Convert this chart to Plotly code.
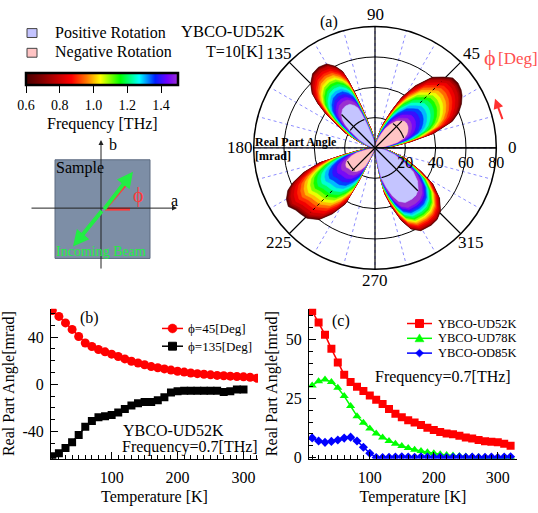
import numpy as np
import plotly.graph_objects as go

W, H = 538, 513
FONT = "Liberation Serif, Times New Roman, serif"

# ---------------- data: panel (b) ----------------
temp_b45 = list(range(10, 330, 10))
phi45 = [62.5, 57.5, 52, 46.5, 40.5, 35, 32, 29.5, 27.5, 25.5, 23.5, 21.5, 19.5, 18, 16.5, 15,
         14, 13, 12, 11, 10.3, 9.6, 9, 8.5, 8, 7.5, 7.2, 6.9, 6.6, 6.3, 6, 5.2]
temp_b135 = list(range(10, 310, 10))
phi135 = [-61, -58.5, -54, -49, -43, -36, -31, -28, -27, -26, -24, -21, -18, -16, -15, -15,
          -13.5, -11, -7, -6, -5.5, -5.5, -5.5, -5.5, -5.5, -5.5, -6.5, -6, -4.5, -4.5]

# ---------------- data: panel (c) ----------------
temp_c = list(range(10, 330, 10))
ud52 = [62, 57.2, 52, 46, 40.2, 35, 32, 30, 28.2, 26.3, 24.4, 22.6, 20.5, 18.5, 17, 15.8,
        14.8, 13.8, 12.6, 11.6, 10.8, 10.2, 9.8, 9.2, 8.5, 8, 7.4, 6.9, 6.7, 6.4, 5.8, 5]
ud78 = [30.5, 32.3, 33, 32, 29.5, 26, 21.8, 17.5, 14.7, 12.3, 10.2, 8.5, 7, 5.8, 4.9, 4,
        3.3, 2.7, 2.2, 1.8, 1.4, 1.1, 0.8, 0.6, 0.4, 0.3, 0.15, 0, -0.1, -0.1, 0, 0.1]
od85 = [8.3, 7, 6.4, 6.8, 7.4, 8.2, 8.6, 7, 4.3, 1.8, 0, 0, 0.1, 0.2, 0.3, 0.2,
        0.1, 0.3, 0.2, 0.1, 0.2, 0, 0.1, 0.2, 0.1, 0.2, 0, 0.1, 0.2, 0, 0.2, 0.3]

# ---------------- data: polar panel (a) ----------------
freqs = [0.6, 0.65, 0.7, 0.75, 0.8, 0.85, 0.9, 0.95, 1.0, 1.05, 1.1, 1.15, 1.2, 1.25,
         1.3, 1.35, 1.4, 1.45, 1.5]
# relative position of each frequency contour between the outer edge (0) and inner edge (1)
band_pos = [0, 0.015, 0.03, 0.05, 0.08, 0.14, 0.2, 0.26, 0.32, 0.38, 0.44, 0.5, 0.56, 0.63,
            0.7, 0.77, 0.84, 0.92, 1.0]
# outer (0.6 THz) contour of the four lobes
theta_outer = [0, 3, 6, 10, 14, 19, 23, 27, 31, 34, 38, 42, 46, 51, 57, 62, 66, 71, 76, 82, 90,
               95, 98, 102, 105, 108, 110, 111.5, 113, 116, 120, 125, 130, 135, 139, 142, 145,
               148, 153, 158, 165, 172, 180,
               185, 190, 193, 195, 199, 203, 206, 210, 214, 218, 222, 226, 232, 237, 242, 244,
               246, 250, 260, 270,
               275, 278, 280, 282, 286, 290, 294, 299, 306, 311, 316, 322, 328, 333, 341, 348,
               355, 360]
r_outer = [2, 6, 13, 24, 40, 54, 60, 64, 67, 68.5, 69.5, 69, 65, 60, 49, 38, 27, 17, 8, 3, 1,
           4, 8, 13, 17, 28, 38, 48, 55, 60, 64, 65, 64, 60, 55, 48, 40, 31, 22, 12, 5, 2, 1,
           5, 13, 24, 38, 50, 59, 64, 67.5, 69, 66.5, 65.5, 64.5, 60, 52, 42, 25, 8, 2, 1, 1,
           3, 9, 20, 31, 41, 51, 58.5, 62.4, 63, 62.5, 60, 54, 45, 34, 21, 11, 4, 2]
# per quadrant: size of the 1.5 THz contour and of the sign region, relative to outer contour
quad_end = [0.42, 0.57, 0.38, 0.72]
quad_inner = [0.38, 0.52, 0.33, 0.66]
quad_kind = ["neg", "pos", "neg", "pos"]
angle_labels = [0, 45, 90, 135, 180, 225, 270, 315]

POS_COLOR = "#c4c4ff"
NEG_COLOR = "#ffc4c4"

cscale = [[0.0, "#4a0000"], [0.1, "#800000"], [0.22, "#cc0000"], [0.3, "#ff0000"],
          [0.4, "#ff7a00"], [0.49, "#ffff00"], [0.62, "#00ff00"], [0.745, "#00ffff"],
          [0.85, "#0020ff"], [0.93, "#7000ff"], [1.0, "#9a30d0"]]


def hex2rgb(h):
    h = h.lstrip("#")
    return [int(h[i:i + 2], 16) for i in (0, 2, 4)]


def color_at(f):
    t = (f - 0.6) / 0.9
    for (t0, c0), (t1, c1) in zip(cscale[:-1], cscale[1:]):
        if t0 <= t <= t1:
            a = (t - t0) / (t1 - t0) if t1 > t0 else 0
            r0, r1 = hex2rgb(c0), hex2rgb(c1)
            c = [round(r0[i] + a * (r1[i] - r0[i])) for i in range(3)]
            return "rgb(%d,%d,%d)" % tuple(c)
    return cscale[-1][1]


def px(x):
    return x / W


def py(y):
    return 1 - y / H


th = np.array(theta_outer, dtype=float)
ro = np.array(r_outer, dtype=float)
qidx = np.minimum((th // 90).astype(int), 3)
q_end = np.array(quad_end)[qidx]

fig = go.Figure()

# black 45-degree spokes (under the lobes)
for a in (45, 135):
    fig.add_trace(go.Scatterpolar(r=[80, 0, 80], theta=[a, a, a + 180], mode="lines",
                                  line=dict(color="black", width=1.2), showlegend=False,
                                  hoverinfo="skip"))

# frequency contours
for f, u in zip(freqs, band_pos):
    col = color_at(f)
    s = 1 - u * (1 - q_end)
    fig.add_trace(go.Scatterpolar(r=ro * s, theta=th, mode="lines", fill="toself",
                                  fillcolor=col, line=dict(color=col, width=0.6),
                                  showlegend=False, hoverinfo="skip"))

# inner positive / negative rotation regions
for q in range(4):
    lo, hi = 90 * q, 90 * (q + 1)
    ratio = quad_inner[q]
    m = (th >= lo) & (th <= hi)
    rr = np.r_[0, ro[m] * ratio, 0]
    tt = np.r_[lo, th[m], hi]
    col = POS_COLOR if quad_kind[q] == "pos" else NEG_COLOR
    fig.add_trace(go.Scatterpolar(r=rr, theta=tt, mode="lines", fill="toself", fillcolor=col,
                                  line=dict(color=col, width=0.5), showlegend=False,
                                  hoverinfo="skip"))
    # grid details visible inside the region
    mid = (lo + hi) / 2
    rmid = ratio * np.interp(mid, th, ro)
    fig.add_trace(go.Scatterpolar(r=[0, rmid], theta=[mid, mid], mode="lines",
                                  line=dict(color="black", width=1.2), showlegend=False,
                                  hoverinfo="skip"))
    tfine = np.arange(lo, hi + 0.5, 0.5)
    rin = ratio * np.interp(tfine, th, ro)
    sel = tfine[rin > 20.8]
    if len(sel):
        fig.add_trace(go.Scatterpolar(r=[20] * len(sel), theta=sel, mode="lines",
                                      line=dict(color="black", width=1.2), showlegend=False,
                                      hoverinfo="skip"))

# dotted lines along the 45/225 lobes
for a, r0, r1 in ((45, 42, 62), (225, 40, 60)):
    fig.add_trace(go.Scatterpolar(r=[r0, r1], theta=[a, a], mode="lines",
                                  line=dict(color="black", width=1, dash="dot"),
                                  showlegend=False, hoverinfo="skip"))

# main axes through the centre
for a in (0, 90):
    fig.add_trace(go.Scatterpolar(r=[80, 0, 80], theta=[a, a, a + 180], mode="lines",
                                  line=dict(color="black", width=1.2), showlegend=False,
                                  hoverinfo="skip"))

# ---------------- panel (b) ----------------
fig.add_trace(go.Scatter(x=temp_b45, y=phi45, mode="lines+markers", name="ϕ=45[Deg]",
                         line=dict(color="#ff0000", width=1.5),
                         marker=dict(symbol="circle", size=9, color="#ff0000"),
                         xaxis="x", yaxis="y", showlegend=False))
fig.add_trace(go.Scatter(x=temp_b135, y=phi135, mode="lines+markers", name="ϕ=135[Deg]",
                         line=dict(color="black", width=1.5),
                         marker=dict(symbol="square", size=8, color="black"),
                         xaxis="x", yaxis="y", showlegend=False))

# colorbar carrier (off-range)
fig.add_trace(go.Scatter(x=[-1000], y=[-1000], mode="markers", showlegend=False,
                         hoverinfo="skip", xaxis="x", yaxis="y",
                         marker=dict(color=[1.0], colorscale=cscale, cmin=0.6, cmax=1.5,
                                     showscale=True,
                                     colorbar=dict(orientation="h", x=px(102), xanchor="center",
                                                   y=py(74), yanchor="top", len=152,
                                                   lenmode="pixels", thickness=12,
                                                   thicknessmode="pixels", outlinewidth=2.5,
                                                   outlinecolor="black", ticks="outside",
                                                   ticklen=7, tickcolor="black",
                                                   tickvals=[0.6, 0.8, 1.0, 1.2, 1.4],
                                                   ticktext=["0.6", "0.8", "1.0", "1.2", "1.4"],
                                                   tickfont=dict(size=14, family=FONT,
                                                                 color="black"),
                                                   xpad=0, ypad=0))))

# ---------------- panel (c) ----------------
fig.add_trace(go.Scatter(x=temp_c, y=ud52, mode="lines+markers", name="YBCO-UD52K",
                         line=dict(color="#ff0000", width=1.5),
                         marker=dict(symbol="square", size=8, color="#ff0000"),
                         xaxis="x2", yaxis="y2", showlegend=False))
fig.add_trace(go.Scatter(x=temp_c, y=ud78, mode="lines+markers", name="YBCO-UD78K",
                         line=dict(color="#00ff00", width=1.5),
                         marker=dict(symbol="triangle-up", size=8, color="#00ff00"),
                         xaxis="x2", yaxis="y2", showlegend=False))
fig.add_trace(go.Scatter(x=temp_c, y=od85, mode="lines+markers", name="YBCO-OD85K",
                         line=dict(color="#0000ff", width=1.5),
                         marker=dict(symbol="diamond", size=7, color="#0000ff"),
                         xaxis="x2", yaxis="y2", showlegend=False))

axis_common = dict(showline=True, linecolor="black", linewidth=1, showgrid=False,
                   zeroline=False, ticks="inside", tickcolor="black",
                   tickfont=dict(size=16, family=FONT, color="black"))
minor_x = dict(ticks="inside", dtick=10, tick0=0, ticklen=4, tickcolor="black", showgrid=False)

fig.update_layout(
    width=W, height=H, margin=dict(l=0, r=0, t=0, b=0),
    paper_bgcolor="white", plot_bgcolor="white", showlegend=False,
    font=dict(family=FONT, color="black"),
    xaxis=dict(domain=[px(51), px(258)], range=[8, 322], tickvals=[100, 200, 300], ticklen=7,
               minor=minor_x, anchor="y", ticklabelstandoff=4,
               title=dict(text="Temperature [K]", font=dict(size=16, family=FONT), standoff=5),
               **axis_common),
    yaxis=dict(domain=[py(465), py(313)], range=[-63, 64], tickvals=[-40, 0, 40],
               ticktext=["-40", "0", "40"], ticklen=7, anchor="x", ticklabelstandoff=3,
               minor=dict(ticks="inside", dtick=10, tick0=0, ticklen=4, tickcolor="black"),
               title=dict(text="Real Part Angle[mrad]", font=dict(size=16, family=FONT),
                          standoff=4),
               **axis_common),
    xaxis2=dict(domain=[px(309), px(517)], range=[5, 330], tickvals=[100, 200, 300], ticklen=7,
                minor=minor_x, anchor="y2", ticklabelstandoff=4,
                title=dict(text="Temperature [K]", font=dict(size=16, family=FONT), standoff=5),
                **axis_common),
    yaxis2=dict(domain=[py(465), py(313)], range=[-0.5, 63], tickvals=[0, 25, 50], ticklen=7,
                anchor="x2", ticklabelstandoff=3,
                minor=dict(ticks="inside", dtick=5, tick0=0, ticklen=4, tickcolor="black"),
                title=dict(text="Real Part Angle[mrad]", font=dict(size=16, family=FONT),
                           standoff=4),
                **axis_common),
    polar=dict(
        domain=dict(x=[px(252), px(498)], y=[py(273), py(27)]),
        bgcolor="white",
        radialaxis=dict(range=[0, 80], tickvals=[20, 40, 60, 80], angle=0, side="clockwise",
                        showline=True, linecolor="black", linewidth=1.2, gridcolor="black",
                        gridwidth=1, ticks="", layer="above traces",
                        tickfont=dict(size=16, family=FONT, color="black")),
        angularaxis=dict(direction="counterclockwise", rotation=0, thetaunit="degrees",
                         tickvals=list(range(0, 360, 15)),
                         ticktext=["" for v in range(0, 360, 15)],
                         showline=True, linecolor="black", linewidth=1.5,
                         gridcolor="#8c8cff", griddash="dot", gridwidth=1, ticks=""),
    ),
)

ann = []
shapes = []


def text(x, y, s, size=16, color="black", anchor="left", bold=False):
    if bold:
        s = "<b>" + s + "</b>"
    ann.append(dict(x=px(x), y=py(y), xref="paper", yref="paper", text=s, showarrow=False,
                    xanchor=anchor, yanchor="middle",
                    font=dict(size=size, family=FONT, color=color)))


def arrow(x_tip, y_tip, x_tail, y_tail, color, width, head=2, size=1.0):
    ann.append(dict(x=px(x_tip), y=py(y_tip), xref="paper", yref="paper", text="",
                    showarrow=True, ax=x_tail - x_tip, ay=y_tail - y_tip,
                    arrowcolor=color, arrowwidth=width, arrowhead=head, arrowsize=size))


def line(x0, y0, x1, y1, color, width):
    shapes.append(dict(type="line", xref="paper", yref="paper", x0=px(x0), y0=py(y0),
                       x1=px(x1), y1=py(y1), line=dict(color=color, width=width)))


def rect(x0, y0, x1, y1, fill, lcol, lw=1):
    shapes.append(dict(type="rect", xref="paper", yref="paper", x0=px(x0), x1=px(x1),
                       y0=py(y1), y1=py(y0), fillcolor=fill, line=dict(color=lcol, width=lw)))


def poly(pts, fill):
    d = "M " + " L ".join("%f,%f" % (px(a), py(b)) for a, b in pts) + " Z"
    shapes.append(dict(type="path", xref="paper", yref="paper", path=d, fillcolor=fill,
                       line=dict(color=fill, width=0.5)))


def circle(cx, cy, r, fill):
    shapes.append(dict(type="circle", xref="paper", yref="paper", x0=px(cx - r), x1=px(cx + r),
                       y0=py(cy + r), y1=py(cy - r), fillcolor=fill,
                       line=dict(color=fill, width=0.5)))


# angular labels of the polar plot, placed just outside the outer ring
CX, CY = 375, 150
label_offset = {0: (137, 0), 45: (96, 96), 90: (0, 135), 135: (-96, 96), 180: (-135, 0),
                225: (-96, -96), 270: (0, -134), 315: (96, -96)}
for a in angle_labels:
    dx, dy = label_offset[a]
    text(CX + dx, CY - dy, str(a), size=17, anchor="center")

# top-left legend for rotation sign
rect(27, 29, 37, 38, POS_COLOR, "#444")
rect(27, 49, 37, 58, NEG_COLOR, "#444")
text(53, 33, "Positive Rotation")
text(53, 53, "Negative Rotation")
text(233, 32, "YBCO-UD52K", size=16.5, anchor="center")
text(234, 52, "T=10[K]", anchor="center")
text(102, 126, "Frequency [THz]", size=16, anchor="center")

# polar labels
text(318, 22, "(a)")
text(253, 144, "Real Part Angle", size=12, bold=True)
text(253, 158, "[mrad]", size=12, bold=True)
text(482, 58, "ϕ", size=22, color="#ff5050")
text(496, 59, "[Deg]", size=17, color="#ff5050")
arrow(495, 100, 503, 122, "#ff3030", 2, head=2, size=1.0)

# sample schematic
rect(55, 162, 150, 262, "#7d8ea6", "#5c6b80")
arrow(177, 211, 30, 211, "#222222", 1, head=2, size=1.0)
arrow(101, 142, 101, 272, "#222222", 1, head=2, size=1.0)
text(107, 147, "b", size=16)
text(169, 203, "a", size=16)
text(54, 170, "Sample", size=16)
arrow(133, 174, 103, 213, "#22ee44", 4, head=2, size=0.8)
arrow(73, 250, 103, 213, "#22ee44", 4, head=2, size=0.8)
line(105, 212, 130, 212, "#ff3b3b", 3)
line(105, 212, 125, 188, "#ff3b3b", 3)
text(131, 198, "ϕ", size=20, color="#ff3b3b")
text(101, 255, "Incoming Beam", size=14, color="#22ee44", anchor="center")

# panel (b) labels and legend
text(78, 322, "(b)")
text(121, 436, "YBCO-UD52K")
text(120, 453, "Frequency=0.7[THz]")
line(162, 333, 183, 333, "#ff0000", 1.5)
circle(172.5, 333, 4.5, "#ff0000")
text(186, 333, "ϕ=45[Deg]", size=13)
line(162, 351, 183, 351, "black", 1.5)
rect(168.5, 347, 176.5, 355, "black", "black")
text(186, 351, "ϕ=135[Deg]", size=13)

# panel (c) labels and legend
text(330, 325, "(c)")
text(373, 382, "Frequency=0.7[THz]")
for yy, col, name in ((328, "#ff0000", "YBCO-UD52K"), (343, "#00ff00", "YBCO-UD78K"),
                      (358, "#0000ff", "YBCO-OD85K")):
    line(407, yy, 432, yy, col, 1.5)
    text(436, yy, name, size=12.5)
rect(415.5, 324, 423.5, 332, "#ff0000", "#ff0000")
poly([(419.5, 338.5), (424, 346.5), (415, 346.5)], "#00ff00")
poly([(419.5, 354), (423.5, 358), (419.5, 362), (415.5, 358)], "#0000ff")

fig.update_layout(annotations=ann, shapes=shapes)

fig.write_html("out.html")
